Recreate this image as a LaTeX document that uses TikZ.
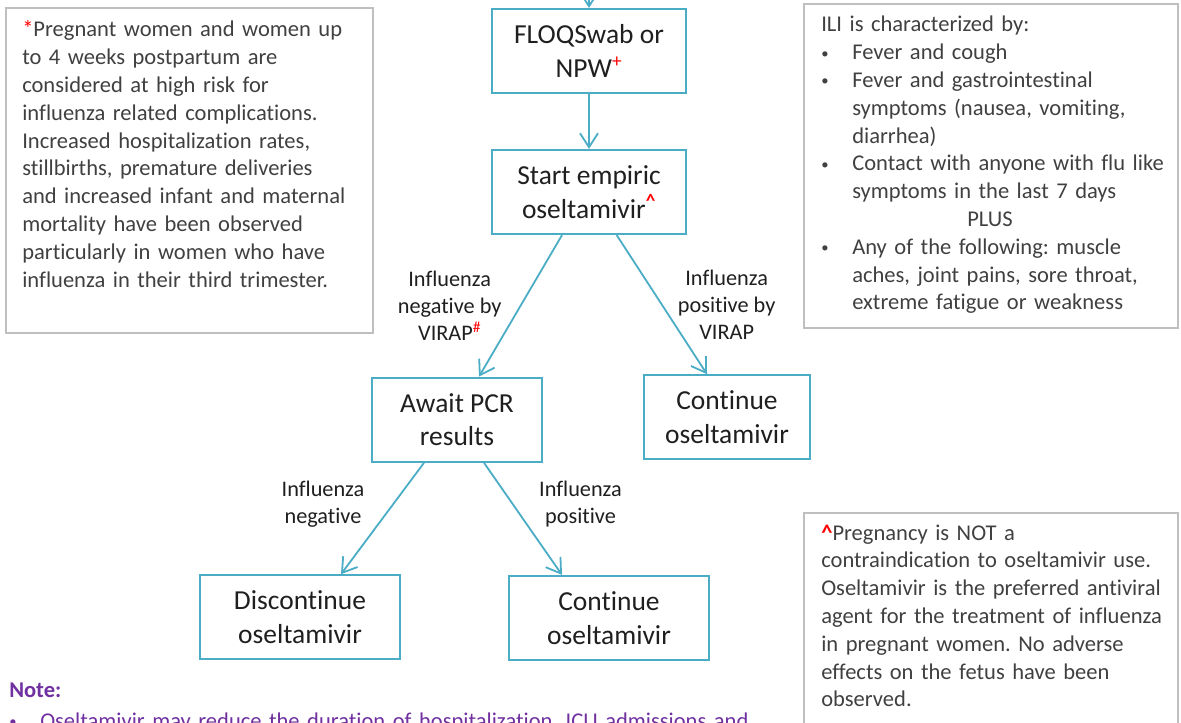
\documentclass[tikz,border=0pt]{standalone}
\usepackage{fontspec}
\setmainfont{Carlito}[Ligatures={NoCommon}]
\usetikzlibrary{arrows.meta, calc}
\definecolor{cteal}{HTML}{4BACC6}
\definecolor{cframe}{HTML}{BFBFBF}
\definecolor{cnote}{HTML}{404040}
\definecolor{cflow}{HTML}{1F1F1F}
\definecolor{cred}{HTML}{FF0000}
\definecolor{cpurple}{HTML}{7030A0}
\frenchspacing
\newlength{\unitpx}\setlength{\unitpx}{0.75pt}
\newcommand{\flowfont}{\fontsize{20.6pt}{25pt}\selectfont}
\newcommand{\notefont}{\fontsize{16.9pt}{20.85pt}\selectfont}
\newcommand{\edgefont}{\fontsize{16.7pt}{20.25pt}\selectfont}
\newcommand{\redmark}[1]{\textcolor{cred}{#1}}
\newcommand{\dotmark}{\raisebox{0.15ex}{\fontsize{11pt}{11pt}\selectfont\textbullet}}
\newcommand{\bul}{\makebox[31\unitpx][l]{\dotmark}}
\newcommand{\hang}{\hspace*{31\unitpx}}
\tikzset{
  flowbox/.style={draw=cteal, line width=2.2\unitpx, align=center, font=\flowfont, text=cflow, minimum height=84\unitpx, inner sep=2pt},
  notebox/.style={draw=cframe, line width=2\unitpx, inner sep=0pt, anchor=north west},
  notetext/.style={font=\notefont, text=cnote, align=left, inner sep=0pt, anchor=base west},
  edgelabel/.style={font=\edgefont, text=cflow, align=center},
  link/.style={draw=cteal, line width=1.8\unitpx, -{Straight Barb[length=10.5pt, width=13.5pt]}},
}

\begin{document}
\begin{tikzpicture}[x=0.75pt, y=-0.75pt]
  \useasboundingbox (0,0) rectangle (1181,723);
  \clip (0,0) rectangle (1181,723);

  % flow chart
  \node[flowbox, minimum width=194\unitpx] (swab) at (589,51) {FLOQSwab or\\NPW\textsuperscript{\redmark{+}}};
  \node[flowbox, minimum width=194\unitpx] (empiric) at (589,192) {Start empiric\\oseltamivir\textsuperscript{\redmark{\textbf{\textasciicircum}}}};
  \node[flowbox, minimum width=170\unitpx] (await) at (457,419.7) {Await PCR\\results};
  \node[flowbox, minimum width=166\unitpx] (contvirap) at (727,417.3) {Continue\\oseltamivir};
  \node[flowbox, minimum width=200\unitpx] (stop) at (300,617.3) {Discontinue\\oseltamivir};
  \node[flowbox, minimum width=200\unitpx] (contpcr) at (609,618) {Continue\\oseltamivir};

  \coordinate (entry) at (589,-10);
  \draw[link] (entry) -- (swab);
  \draw[link] (swab) -- (empiric);
  \draw[link] ($(empiric.south)+(-27,0)$) -- node[edgelabel, xshift=-70.8\unitpx] (negvirap) {Influenza\\negative by\\VIRAP\textsuperscript{\redmark{\#}}} ($(await.north)+(22,0)$);
  \draw[link] ($(empiric.south)+(27.7,0)$) -- node[edgelabel, xshift=64.8\unitpx] (posvirap) {Influenza\\positive by\\VIRAP} ($(contvirap.north)+(-20,0)$);
  \draw[link] ($(await.south)+(-33,0)$) -- node[edgelabel, xshift=-59.5\unitpx, yshift=14.5\unitpx] (negpcr) {Influenza\\negative} ($(stop.north)+(41,0)$);
  \draw[link] ($(await.south)+(27,0)$) -- node[edgelabel, xshift=57.5\unitpx, yshift=15\unitpx] (pospcr) {Influenza\\positive} ($(contpcr.north)+(-47,0)$);

  % side notes
  \node[notebox, minimum width=367.3\unitpx, minimum height=325\unitpx] (riskbox) at (4.7,6.7) {};
  \node[notetext, text width=345\unitpx] (risktext) at (22,37) {\redmark{*}Pregnant women and women up\\
    to 4 weeks postpartum are\\
    considered at high risk for\\
    influenza related complications.\\
    Increased hospitalization rates,\\
    stillbirths, premature deliveries\\
    and increased infant and maternal\\
    mortality have been observed\\
    particularly in women who have\\
    influenza in their third trimester.};

  \node[notebox, minimum width=374\unitpx, minimum height=324\unitpx] (ilibox) at (803.3,2.7) {};
  \node[notetext, text width=350\unitpx] (ilitext) at (821,32) {ILI is characterized by:\\
    \bul Fever and cough\\
    \bul Fever and gastrointestinal\\
    \hang symptoms (nausea, vomiting,\\
    \hang diarrhea)\\
    \bul Contact with anyone with flu like\\
    \hang symptoms in the last 7 days\\
    \hspace*{146\unitpx}PLUS\\
    \bul Any of the following: muscle\\
    \hang aches, joint pains, sore throat,\\
    \hang extreme fatigue or weakness};

  \node[notebox, minimum width=374\unitpx, minimum height=240\unitpx] (oselbox) at (803.3,512) {};
  \node[notetext, text width=350\unitpx] (oseltext) at (821,540) {\redmark{\textbf{\textasciicircum}}Pregnancy is NOT a\\
    contraindication to oseltamivir use.\\
    Oseltamivir is the preferred antiviral\\
    agent for the treatment of influenza\\
    in pregnant women. No adverse\\
    effects on the fetus have been\\
    observed.};

  % note at the foot
  \node[notetext, text=cpurple, text width=800\unitpx] (notehead) at (9,697) {\textbf{Note:}};
  \node[notetext, text=cpurple, text width=800\unitpx] (noteitem) at (9,728) {\makebox[31\unitpx][l]{\dotmark}Oseltamivir may reduce the duration of hospitalization, ICU admissions and};
\end{tikzpicture}
\end{document}
